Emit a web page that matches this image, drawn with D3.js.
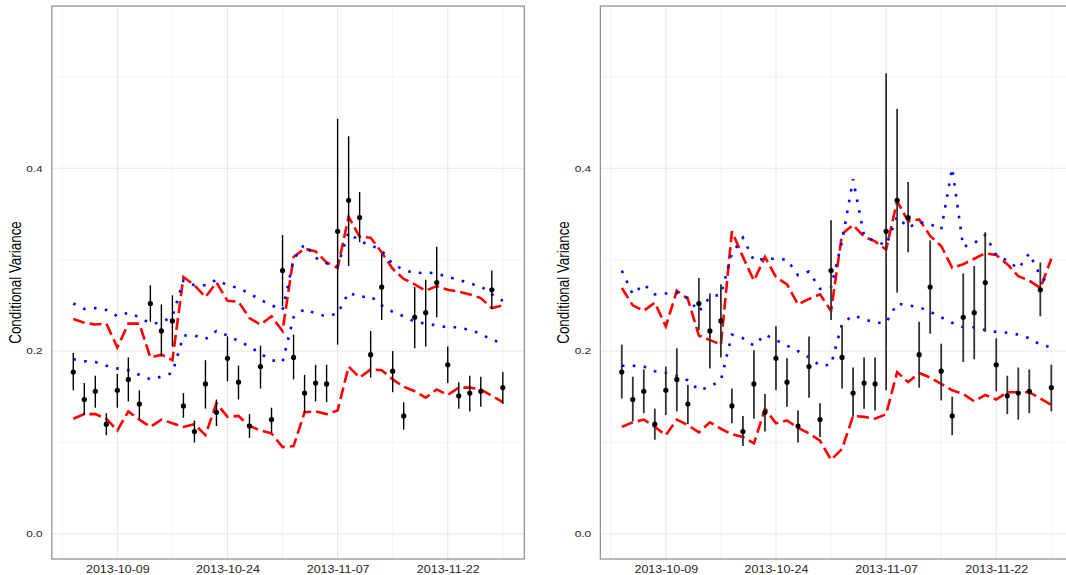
<!DOCTYPE html>
<html>
<head>
<meta charset="utf-8">
<script src="https://cdn.jsdelivr.net/npm/d3@7"></script>
<style>
  body { margin: 0; background: #fff; }
  svg { display: block; }
</style>
</head>
<body>
<div id="chart"></div>
<script>
// observation times (UTC), evenly spaced
const dates = [
  "2013-10-03T03:12", "2013-10-04T14:24", "2013-10-06T01:36", "2013-10-07T12:48", "2013-10-09T00:00",
  "2013-10-10T11:12", "2013-10-11T22:24", "2013-10-13T09:36", "2013-10-14T20:48", "2013-10-16T08:00",
  "2013-10-17T19:12", "2013-10-19T06:24", "2013-10-20T17:36", "2013-10-22T04:48", "2013-10-23T16:00",
  "2013-10-25T03:12", "2013-10-26T14:24", "2013-10-28T01:36", "2013-10-29T12:48", "2013-10-31T00:00",
  "2013-11-01T11:12", "2013-11-02T22:24", "2013-11-04T09:36", "2013-11-05T20:48", "2013-11-07T08:00",
  "2013-11-08T19:12", "2013-11-10T06:24", "2013-11-11T17:36", "2013-11-13T04:48", "2013-11-14T16:00",
  "2013-11-16T03:12", "2013-11-17T14:24", "2013-11-19T01:36", "2013-11-20T12:48", "2013-11-22T00:00",
  "2013-11-23T11:12", "2013-11-24T22:24", "2013-11-26T09:36", "2013-11-27T20:48", "2013-11-29T08:00"
];
const tickDates = ["2013-10-09T00:00", "2013-10-23T16:00", "2013-11-07T08:00", "2013-11-22T00:00"];
const yMajor = [0, 0.2, 0.4];
const yMinor = [0.1, 0.3, 0.5];

// point estimates (same in both panels)
const estimate = [0.177,0.147,0.156,0.120,0.157,0.169,0.142,0.252,0.222,0.233,0.140,0.112,0.164,0.133,0.192,0.166,0.118,0.183,0.125,0.288,
                  0.193,0.154,0.165,0.164,0.331,0.365,0.346,0.196,0.270,0.178,0.129,0.237,0.242,0.275,0.185,0.151,0.154,0.156,0.267,0.160];

// left panel
const leftLow  = [0.157,0.130,0.138,0.108,0.138,0.145,0.126,0.232,0.194,0.205,0.127,0.100,0.137,0.118,0.167,0.147,0.105,0.159,0.111,0.249,
                  0.169,0.133,0.145,0.144,0.207,0.293,0.319,0.171,0.234,0.155,0.114,0.203,0.205,0.237,0.165,0.137,0.134,0.139,0.246,0.142];
const leftHigh = [0.198,0.165,0.173,0.132,0.175,0.193,0.157,0.272,0.251,0.261,0.154,0.124,0.190,0.147,0.216,0.184,0.131,0.206,0.138,0.327,
                  0.218,0.174,0.185,0.185,0.454,0.435,0.374,0.222,0.306,0.200,0.144,0.270,0.278,0.314,0.205,0.166,0.173,0.172,0.288,0.177];
const leftRedUpper  = [0.235,0.231,0.229,0.230,0.204,0.230,0.230,0.193,0.196,0.190,0.281,0.272,0.259,0.275,0.255,0.254,0.236,0.229,0.238,0.222,
                       0.303,0.312,0.309,0.297,0.291,0.347,0.325,0.324,0.308,0.290,0.279,0.273,0.266,0.271,0.267,0.265,0.262,0.258,0.247,0.250];
const leftRedLower  = [0.126,0.131,0.131,0.126,0.113,0.134,0.125,0.117,0.125,0.121,0.117,0.120,0.108,0.143,0.128,0.129,0.118,0.113,0.110,0.095,
                       0.096,0.133,0.134,0.131,0.135,0.183,0.171,0.180,0.179,0.169,0.161,0.156,0.149,0.158,0.152,0.160,0.160,0.158,0.151,0.144];
const leftBlueUpper = [0.252,0.246,0.247,0.245,0.238,0.242,0.237,0.230,0.231,0.238,0.277,0.272,0.272,0.278,0.272,0.269,0.263,0.256,0.250,0.245,
                       0.300,0.317,0.302,0.296,0.293,0.330,0.320,0.316,0.310,0.295,0.289,0.285,0.286,0.285,0.281,0.278,0.274,0.271,0.262,0.255];
const leftBlueLower = [0.191,0.189,0.188,0.184,0.181,0.179,0.174,0.169,0.172,0.176,0.217,0.217,0.213,0.222,0.217,0.211,0.205,0.197,0.190,0.188,
                       0.237,0.246,0.241,0.238,0.241,0.264,0.259,0.260,0.250,0.243,0.238,0.232,0.230,0.228,0.226,0.226,0.223,0.219,0.212,0.209];

// right panel
const rightLow  = [0.148,0.123,0.132,0.103,0.130,0.134,0.120,0.223,0.181,0.193,0.121,0.096,0.126,0.112,0.157,0.139,0.100,0.149,0.106,0.234,
                   0.159,0.128,0.137,0.135,0.157,0.264,0.308,0.160,0.219,0.146,0.108,0.188,0.191,0.221,0.156,0.131,0.125,0.132,0.238,0.134];
const rightHigh = [0.207,0.172,0.180,0.137,0.183,0.203,0.163,0.280,0.263,0.273,0.159,0.129,0.201,0.153,0.227,0.192,0.135,0.216,0.143,0.343,
                   0.228,0.182,0.193,0.193,0.504,0.465,0.385,0.232,0.321,0.208,0.150,0.285,0.293,0.330,0.214,0.173,0.182,0.180,0.297,0.185];
const rightRedUpper  = [0.269,0.250,0.244,0.253,0.227,0.266,0.257,0.217,0.212,0.207,0.331,0.303,0.277,0.303,0.281,0.273,0.251,0.257,0.262,0.244,
                        0.328,0.338,0.325,0.320,0.311,0.364,0.342,0.344,0.326,0.315,0.291,0.295,0.301,0.307,0.305,0.295,0.282,0.277,0.269,0.301];
const rightRedLower  = [0.117,0.122,0.125,0.117,0.108,0.125,0.119,0.111,0.122,0.115,0.109,0.106,0.099,0.137,0.121,0.124,0.116,0.110,0.102,0.081,
                        0.093,0.129,0.128,0.126,0.131,0.177,0.166,0.176,0.171,0.164,0.157,0.153,0.145,0.152,0.147,0.155,0.155,0.155,0.148,0.141];
const rightBlueUpper = [0.288,0.262,0.273,0.262,0.263,0.264,0.258,0.243,0.259,0.262,0.307,0.324,0.299,0.301,0.301,0.300,0.283,0.287,0.268,0.270,
                        0.320,0.388,0.326,0.320,0.316,0.347,0.335,0.341,0.339,0.333,0.400,0.314,0.318,0.327,0.305,0.299,0.290,0.307,0.282,0.271];
const rightBlueLower = [0.184,0.184,0.183,0.178,0.176,0.173,0.168,0.157,0.161,0.168,0.218,0.214,0.206,0.218,0.212,0.206,0.200,0.193,0.184,0.185,
                        0.230,0.239,0.235,0.231,0.231,0.252,0.250,0.248,0.243,0.237,0.231,0.226,0.226,0.223,0.221,0.220,0.218,0.214,0.207,0.204];

const width = 1066, height = 575;
const panelTop = 6, panelBottom = 559, panelW = 472.5;

const parse = d3.utcParse("%Y-%m-%dT%H:%M");
const fmt = d3.utcFormat("%Y-%m-%d");
const times = dates.map(parse);
const ticks = tickDates.map(parse);

const svg = d3.select("#chart").append("svg")
    .attr("width", width)
    .attr("height", height)
    .style("font-family", "'Liberation Sans', Arial, Helvetica, sans-serif");

const panels = [
  {x0: 51.8, low: leftLow, high: leftHigh, red: [leftRedUpper, leftRedLower], blue: [leftBlueUpper, leftBlueLower], barColor: "#000", barWidth: 1.4},
  {x0: 600.3, low: rightLow, high: rightHigh, red: [rightRedUpper, rightRedLower], blue: [rightBlueUpper, rightBlueLower], barColor: "#333", barWidth: 1.8}
];

function drawPanel(p) {
  const t0 = times[0], t1 = times[times.length - 1];
  const pad = (t1 - t0) * 0.05;
  const x = d3.scaleUtc()
      .domain([new Date(+t0 - pad), new Date(+t1 + pad)])
      .range([p.x0, p.x0 + panelW]);
  const y = d3.scaleLinear()
      .domain([-0.0275, 0.5775])
      .range([panelBottom, panelTop]);

  const g = svg.append("g");

  // minor x grid: midpoints between the breaks, plus one each side
  const step = ticks[1] - ticks[0];
  const xMinor = [new Date(+ticks[0] - step / 2)];
  for (let i = 0; i < ticks.length; i++) xMinor.push(new Date(+ticks[i] + step / 2));

  g.selectAll(".ygmin").data(yMinor).enter().append("line")
      .attr("x1", p.x0).attr("x2", p.x0 + panelW)
      .attr("y1", d => y(d)).attr("y2", d => y(d))
      .attr("stroke", "#f3f3f3").attr("stroke-width", 0.8);
  g.selectAll(".xgmin").data(xMinor).enter().append("line")
      .attr("x1", d => x(d)).attr("x2", d => x(d))
      .attr("y1", panelTop).attr("y2", panelBottom)
      .attr("stroke", "#f3f3f3").attr("stroke-width", 0.8);
  g.selectAll(".ygmaj").data(yMajor).enter().append("line")
      .attr("x1", p.x0).attr("x2", p.x0 + panelW)
      .attr("y1", d => y(d)).attr("y2", d => y(d))
      .attr("stroke", "#e6e6e6").attr("stroke-width", 1);
  g.selectAll(".xgmaj").data(ticks).enter().append("line")
      .attr("x1", d => x(d)).attr("x2", d => x(d))
      .attr("y1", panelTop).attr("y2", panelBottom)
      .attr("stroke", "#e6e6e6").attr("stroke-width", 1);

  const line = d3.line()
      .x((d, i) => x(times[i]))
      .y(d => y(d));

  p.red.forEach(s => {
    g.append("path")
        .attr("d", line(s))
        .attr("fill", "none")
        .attr("stroke", "#ff0000")
        .attr("stroke-width", 2.6)
        .attr("stroke-dasharray", "12,5");
  });
  p.blue.forEach(s => {
    g.append("path")
        .attr("d", line(s))
        .attr("fill", "none")
        .attr("stroke", "#0000ff")
        .attr("stroke-width", 2.6)
        .attr("stroke-dasharray", "2.6,8.4");
  });

  // error bars and points
  g.selectAll(".bar").data(estimate).enter().append("line")
      .attr("x1", (d, i) => x(times[i])).attr("x2", (d, i) => x(times[i]))
      .attr("y1", (d, i) => y(p.low[i])).attr("y2", (d, i) => y(p.high[i]))
      .attr("stroke", p.barColor)
      .attr("stroke-width", p.barWidth);
  g.selectAll(".pt").data(estimate).enter().append("circle")
      .attr("cx", (d, i) => x(times[i]))
      .attr("cy", d => y(d))
      .attr("r", 2.6)
      .attr("fill", "#000");

  // panel border
  g.append("rect")
      .attr("x", p.x0).attr("y", panelTop)
      .attr("width", panelW).attr("height", panelBottom - panelTop)
      .attr("fill", "none")
      .attr("stroke", "#808080")
      .attr("stroke-width", 1.1);

  // axes (labels only)
  const xAxis = d3.axisBottom(x)
      .tickValues(ticks)
      .tickSize(0)
      .tickPadding(7)
      .tickFormat(d => fmt(d3.utcDay.round(d)));
  const xg = g.append("g")
      .attr("transform", "translate(0," + panelBottom + ")")
      .call(xAxis);
  xg.select(".domain").remove();
  xg.selectAll("text")
      .style("font-size", "10.4px")
      .style("font-family", "'Liberation Sans', Arial, sans-serif")
      .attr("fill", "#262626")
      .attr("transform", "scale(1.2,1)");

  const yAxis = d3.axisLeft(y)
      .tickValues(yMajor)
      .tickSize(0)
      .tickPadding(6.9)
      .tickFormat(d3.format(".1f"));
  const yg = g.append("g")
      .attr("transform", "translate(" + p.x0 + ",0)")
      .call(yAxis);
  yg.select(".domain").remove();
  yg.selectAll("text")
      .style("font-size", "9px")
      .style("font-family", "'Liberation Sans', Arial, sans-serif")
      .attr("fill", "#262626")
      .attr("transform", "scale(1.32,1)");

  g.append("text")
      .attr("transform", "translate(" + (p.x0 - 31.1) + "," + ((panelTop + panelBottom) / 2) + ") scale(1.29,1) rotate(-90)")
      .attr("text-anchor", "middle")
      .style("font-size", "13.4px")
      .attr("fill", "#000")
      .text("Conditional Variance");
}

panels.forEach(drawPanel);
</script>
</body>
</html>
